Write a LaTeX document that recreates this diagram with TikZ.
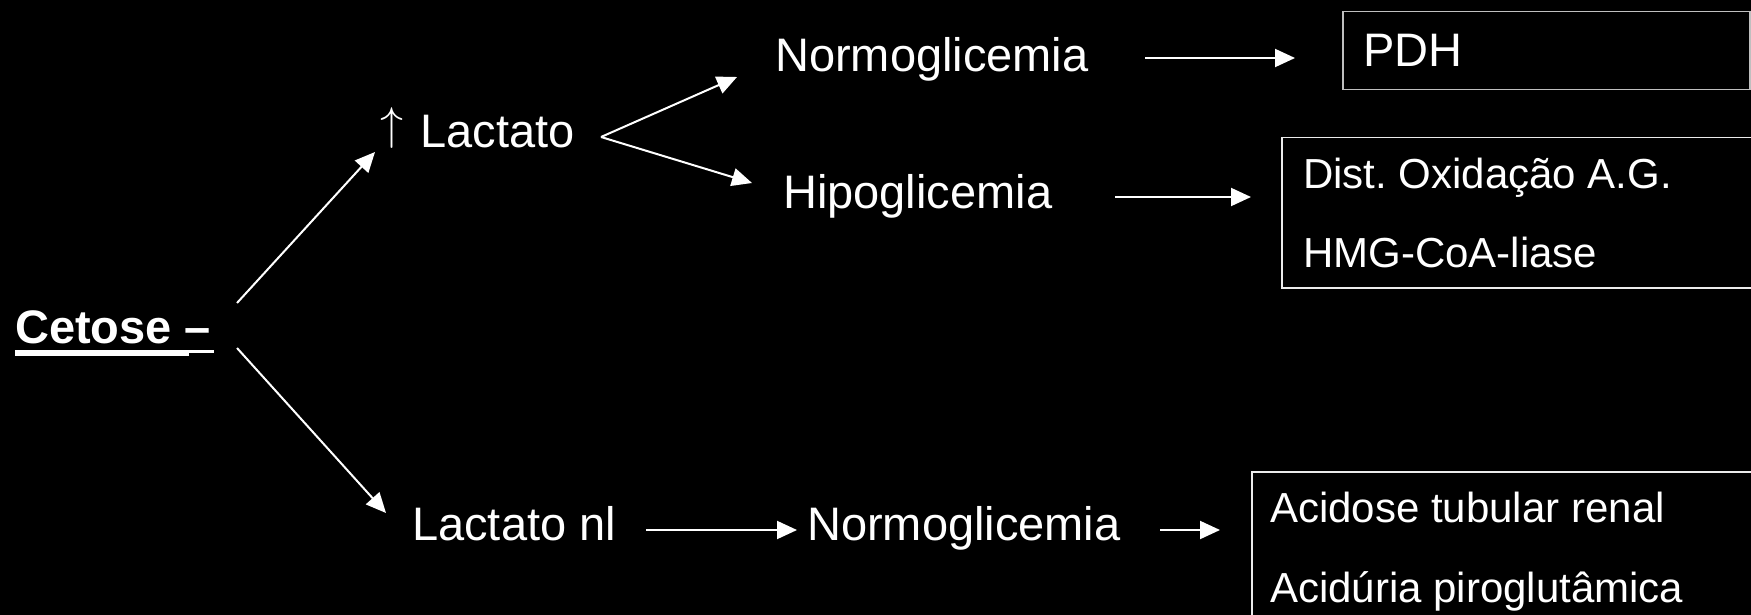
\documentclass[tikz,border=0pt]{standalone}
\usepackage{fontspec}
\setmainfont{Liberation Sans}
\usetikzlibrary{arrows.meta,calc}
\frenchspacing
\begin{document}
\begin{tikzpicture}[x=1pt,y=-1pt,
  txt/.style={anchor=base west,inner sep=0pt,text=white,font=\fontsize{47}{56}\selectfont},
  boxtxt/.style={anchor=base west,inner sep=0pt,text=white,font=\fontsize{42}{50}\selectfont},
  frame/.style={draw=white!92!black,line width=1.5pt,anchor=north west,inner sep=0pt},
  arr/.style={draw=white,line width=2pt,-{Triangle[length=20pt,width=18pt]}}]
\fill[black] (0,0) rectangle (1751,615);
\useasboundingbox (0,0) rectangle (1751,615);
% boxes
\node[frame,draw=white!75!black,minimum width=407pt,minimum height=78pt] (pdh) at (1342,11) {};
\node[frame,minimum width=520pt,minimum height=150pt] (dist) at (1281,137) {};
\node[frame,minimum width=540pt,minimum height=170pt] (acid) at (1251,471) {};
% texts
\node[txt,font={\fontsize{47}{56}\selectfont\bfseries}] (cet) at (15,343) {Cetose –};
\fill[white] ($(cet.base west)+(0,7)$) rectangle ($(cet.base west)+(174,13)$);
\fill[white] ($(cet.base west)+(174,7)$) rectangle ($(cet.base west)+(199,10)$);
\node[txt] (lac) at (380,148) {\raisebox{9pt}{\scalebox{4.6}{\fontsize{10}{12}\selectfont$\uparrow$}}\hspace{4pt} Lactato};
\node[txt] (n1) at (775,72) {Normoglicemia};
\node[txt] (hip) at (783,208) {Hipoglicemia};
\node[txt] (lnl) at (412,540) {Lactato nl};
\node[txt] (n2) at (807,540) {Normoglicemia};
\node[txt] (pdhT) at (1363,67) {PDH};
\node[boxtxt] (d1) at (1303,188) {Dist. Oxidação A.G.};
\node[boxtxt] (d2) at (1303,267) {HMG-CoA-liase};
\node[boxtxt] (a1) at (1270,522) {Acidose tubular renal};
\node[boxtxt] (a2) at (1270,602) {Acidúria piroglutâmica};
% connectors
\draw[arr] ($(cet.base west)+(222,-40)$) -- ($(lac.base west)+(-5,4)$);
\draw[arr] ($(cet.base west)+(222,5)$) -- ($(lnl.base west)+(-26,-27)$);
\draw[arr] ($(lac.base west)+(221,-11)$) -- ($(n1.base west)+(-38,5)$);
\draw[arr] ($(lac.base west)+(221,-11)$) -- ($(hip.base west)+(-31,-25)$);
\draw[arr] ($(n1.base west)+(370,-14)$) -- ($(pdh.north west)+(-47,47)$);
\draw[arr] ($(hip.base west)+(332,-11)$) -- ($(dist.north west)+(-30,60)$);
\draw[arr] ($(lnl.base west)+(234,-10)$) -- ($(n2.base west)+(-10,-10)$);
\draw[arr] ($(n2.base west)+(353,-10)$) -- ($(acid.north west)+(-31,59)$);
\end{tikzpicture}
\end{document}
